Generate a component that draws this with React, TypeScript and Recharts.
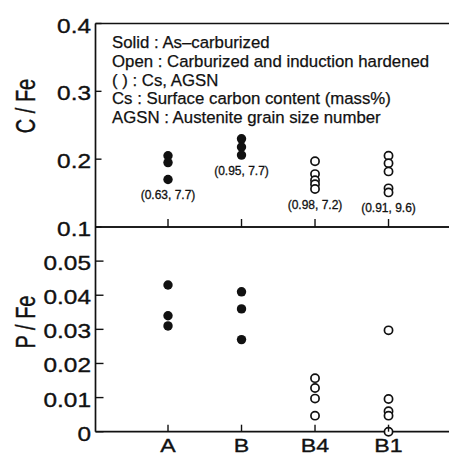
import React from 'react';
import { ScatterChart, Scatter, XAxis, YAxis } from 'recharts';

// ---------- data ----------
const categories = ['A', 'B', 'B4', 'B1'];
const categoryPositions = [1, 2, 3, 4];
const xTicks = [0.5, 1, 1.5, 2, 2.5, 3, 3.5, 4, 4.5];

// C / Fe (top panel)
const cFeA = [0.205, 0.195, 0.17];
const cFeB = [0.23, 0.218, 0.206];
const cFeB4 = [0.197, 0.178, 0.169, 0.163, 0.156];
const cFeB1 = [0.205, 0.194, 0.182, 0.157, 0.151];

// P / Fe (bottom panel)
const pFeA = [0.043, 0.034, 0.031];
const pFeB = [0.041, 0.036, 0.027];
const pFeB4 = [0.0157, 0.0128, 0.0097, 0.0047];
const pFeB1 = [0.0297, 0.0096, 0.006, 0.0047, 0];

// (Cs, AGSN) annotations per category
const annotations = ['(0.63, 7.7)', '(0.95, 7.7)', '(0.98, 7.2)', '(0.91, 9.6)'];

const cTicks = [0.1, 0.2, 0.3, 0.4];
const pTicks = [0, 0.01, 0.02, 0.03, 0.04, 0.05];

const legendLines = [
  'Solid : As\u2013carburized',
  'Open : Carburized and induction hardened',
  '( ) : Cs, AGSN',
  'Cs : Surface carbon content (mass%)',
  'AGSN : Austenite grain size number',
];

// ---------- derived tables ----------
const toPoints = (x: number, vals: number[]) => vals.map((y) => ({ x, y }));
const cSolid = [...toPoints(1, cFeA), ...toPoints(2, cFeB)];
const cOpen = [...toPoints(3, cFeB4), ...toPoints(4, cFeB1)];
const pSolid = [...toPoints(1, pFeA), ...toPoints(2, pFeB)];
const pOpen = [...toPoints(3, pFeB4), ...toPoints(4, pFeB1)];
const cGroups = [cFeA, cFeB, cFeB4, cFeB1];
const annotationPoints = categoryPositions.map((x, i) => ({
  x,
  y: Math.min(...cGroups[i]),
  text: annotations[i],
}));

// ---------- styles ----------
const FONT = '"Liberation Sans", Arial, Helvetica, sans-serif';
const INK = '#111';
const LW = 1.7;
const TS = 0.35; // text stroke to mimic scanned weight
const X_DOMAIN: [number, number] = [0.0136, 4.986];
const W = 470;
const MARGIN_L = 86.5; // + 1px axis width = 87.5
const MARGIN_R = 16; // + 1px axis width

const isMajor = (v: number) => Number.isInteger(v);

const SolidDot = (p: any) => <circle cx={p.cx} cy={p.cy} r={4.7} fill={INK} />;
const OpenDot = (p: any) => (
  <circle cx={p.cx} cy={p.cy} r={4.1} fill="#fff" stroke={INK} strokeWidth={1.7} />
);
const AnnotationShape = (p: any) => (
  <text
    x={p.cx}
    y={p.cy + 19.5}
    textAnchor="middle"
    fontSize={12}
    fontFamily={FONT}
    fill={INK}
    stroke={INK}
    strokeWidth={0.3}
  >
    {p.payload.text}
  </text>
);

const hTick = (dir: number, majorLen: number, minorLen: number) => (props: any) => {
  const { x, y, payload } = props;
  const len = isMajor(payload.value) ? majorLen : minorLen;
  if (!len) return <g />;
  return <line x1={x} x2={x} y1={y} y2={y + dir * len} stroke={INK} strokeWidth={1.4} />;
};

const leftTick = (len: number, fmt: (v: number) => string) => (props: any) => {
  const { x, y, payload } = props;
  return (
    <g>
      <line x1={x} x2={x + len} y1={y} y2={y} stroke={INK} strokeWidth={1.4} />
      <text
        x={0}
        y={0}
        transform={`translate(${x - 4.5},${y + 9}) scale(1.22,1)`}
        textAnchor="end"
        fontSize={20}
        fontFamily={FONT}
        fill={INK}
        stroke={INK}
        strokeWidth={TS}
      >
        {fmt(payload.value)}
      </text>
    </g>
  );
};

const rightTick = (len: number) => (props: any) => {
  const { x, y } = props;
  return <line x1={x} x2={x - len} y1={y} y2={y} stroke={INK} strokeWidth={1.4} />;
};

const bottomCatTick = (props: any) => {
  const { x, y, payload } = props;
  const idx = categoryPositions.indexOf(payload.value);
  if (idx < 0) return <g />;
  return (
    <g>
      <line x1={x} x2={x} y1={y} y2={y - 7} stroke={INK} strokeWidth={1.4} />
      <text
        x={0}
        y={0}
        transform={`translate(${x},${y + 20.5}) scale(1.22,1)`}
        textAnchor="middle"
        fontSize={19}
        fontFamily={FONT}
        fill={INK}
        stroke={INK}
        strokeWidth={TS}
      >
        {categories[idx]}
      </text>
    </g>
  );
};

const AxisTitle = ({ x, y, text }: { x: number; y: number; text: string }) => (
  <text
    x={0}
    y={0}
    transform={`translate(${x},${y}) rotate(-90) scale(1,1.4)`}
    textAnchor="middle"
    fontSize={20}
    fontFamily={FONT}
    fill={INK}
    stroke={INK}
    strokeWidth={0.3}
  >
    {text}
  </text>
);

const axisLine = { stroke: INK, strokeWidth: LW };

const commonX = {
  type: 'number' as const,
  dataKey: 'x',
  domain: X_DOMAIN,
  ticks: xTicks,
  interval: 0 as const,
  height: 1,
  tickSize: 0,
  tickMargin: 0,
  tickLine: false,
  axisLine,
};

const commonY = {
  type: 'number' as const,
  dataKey: 'y',
  interval: 0 as const,
  width: 1,
  tickSize: 0,
  tickMargin: 0,
  tickLine: false,
  axisLine,
};

export default function App() {
  return (
    <div style={{ position: 'relative', width: 449, height: 449, overflow: 'hidden', background: '#fff' }}>
      {/* Top panel: C / Fe */}
      <div style={{ position: 'absolute', left: 0, top: 0 }}>
        <ScatterChart
          width={W}
          height={240}
          margin={{ top: 14.5, right: MARGIN_R, bottom: 20, left: MARGIN_L }}
        >
          <XAxis xAxisId="top" orientation="top" {...commonX} tick={hTick(1, 7, 4)} />
          <XAxis xAxisId="bottom" orientation="bottom" {...commonX} tick={hTick(-1, 8, 0)} />
          <YAxis
            yAxisId="left"
            orientation="left"
            {...commonY}
            domain={[0.1, 0.4]}
            ticks={cTicks}
            tick={leftTick(6, (v) => v.toFixed(1))}
          />
          <YAxis
            yAxisId="right"
            orientation="right"
            {...commonY}
            domain={[0.1, 0.4]}
            ticks={cTicks}
            tick={rightTick(7)}
          />
          <Scatter xAxisId="bottom" yAxisId="left" data={cSolid} shape={SolidDot} isAnimationActive={false} />
          <Scatter xAxisId="bottom" yAxisId="left" data={cOpen} shape={OpenDot} isAnimationActive={false} />
          <Scatter xAxisId="bottom" yAxisId="left" data={annotationPoints} shape={AnnotationShape} isAnimationActive={false} />
          <g>
            {legendLines.map((t, i) => (
              <text
                key={t}
                x={104}
                y={40.3 + i * 18.6}
                fontSize={16.8}
                fontFamily={FONT}
                fill={INK}
                stroke={INK}
                strokeWidth={0.25}
              >
                {t}
              </text>
            ))}
          </g>
          <AxisTitle x={27} y={98} text="C / Fe" />
        </ScatterChart>
      </div>

      {/* Bottom panel: P / Fe */}
      <div style={{ position: 'absolute', left: 0, top: 200 }}>
        <ScatterChart
          width={W}
          height={249}
          margin={{ top: 18, right: MARGIN_R, bottom: 24.3, left: MARGIN_L }}
        >
          <XAxis xAxisId="top" orientation="top" {...commonX} tick={hTick(1, 9, 4)} />
          <XAxis xAxisId="bottom" orientation="bottom" {...commonX} tick={bottomCatTick} />
          <YAxis
            yAxisId="left"
            orientation="left"
            {...commonY}
            domain={[0, 0.06]}
            ticks={pTicks}
            tick={leftTick(8, (v) => (v === 0 ? '0' : v.toFixed(2)))}
          />
          <YAxis
            yAxisId="right"
            orientation="right"
            {...commonY}
            domain={[0, 0.06]}
            ticks={pTicks}
            tick={rightTick(7)}
          />
          <Scatter xAxisId="bottom" yAxisId="left" data={pSolid} shape={SolidDot} isAnimationActive={false} />
          <Scatter xAxisId="bottom" yAxisId="left" data={pOpen} shape={OpenDot} isAnimationActive={false} />
          <AxisTitle x={27} y={114} text="P / Fe" />
        </ScatterChart>
      </div>
    </div>
  );
}
